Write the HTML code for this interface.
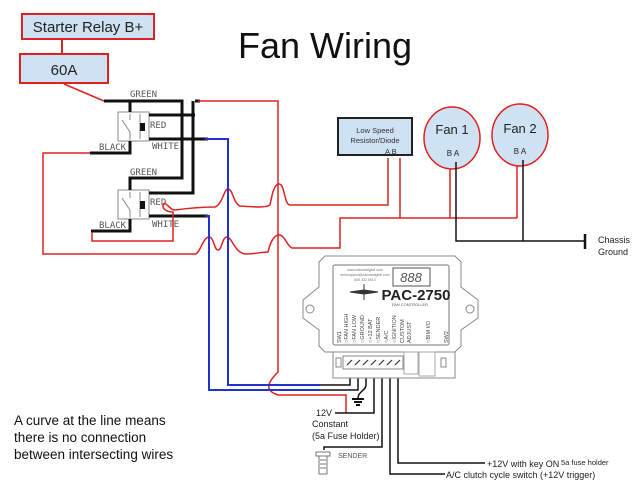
<!DOCTYPE html>
<html><head><meta charset="utf-8"><style>
html,body{margin:0;padding:0;background:#fff;}
svg{display:block;font-family:"Liberation Sans",sans-serif;}
</style></head><body>
<svg width="640" height="480" viewBox="0 0 640 480" xmlns="http://www.w3.org/2000/svg">
<rect width="640" height="480" fill="#fff"/>
<!-- title -->
<text x="325" y="58" font-size="36" text-anchor="middle" fill="#111">Fan Wiring</text>
<!-- starter relay / 60A -->
<rect x="22" y="14" width="132" height="25" fill="#cfe2f3" stroke="#d22" stroke-width="2"/>
<text x="88" y="32" font-size="15" text-anchor="middle" fill="#222">Starter Relay B+</text>
<line x1="62" y1="39" x2="62" y2="54" stroke="#d22" stroke-width="2"/>
<rect x="20" y="54" width="88" height="29" fill="#cfe2f3" stroke="#d22" stroke-width="2"/>
<text x="64" y="75" font-size="15" text-anchor="middle" fill="#222">60A</text>
<line x1="64" y1="84" x2="104" y2="101" stroke="#d22" stroke-width="1.5"/>

<!-- relays -->
<g fill="none" stroke="#888" stroke-width="1">
<rect x="118" y="112" width="31" height="29"/><line x1="140" y1="114" x2="140" y2="139"/>
<rect x="118" y="190" width="31" height="29"/><line x1="140" y1="192" x2="140" y2="217"/>
<path d="M122 120 L130 132 M130 114 L130 120 M130 132 L130 140 M122 198 L130 210 M130 192 L130 198 M130 210 L130 218"/>
</g>
<rect x="140" y="123" width="5" height="8" fill="#111"/>
<rect x="140" y="201" width="5" height="8" fill="#111"/>
<g font-size="9" fill="#555" font-family="DejaVu Sans Mono, monospace">
<text x="130" y="97">GREEN</text><text x="150" y="128">RED</text><text x="152" y="149">WHITE</text><text x="99" y="150">BLACK</text>
<text x="130" y="175">GREEN</text><text x="150" y="205">RED</text><text x="152" y="227">WHITE</text><text x="99" y="228">BLACK</text>
</g>
<g fill="none" stroke="#111" stroke-width="3">
<path d="M104 101 H182 V178 H130 V190"/>
<path d="M130 101 V112"/>
<path d="M149 115 H195"/>
<path d="M149 139 H208"/>
<path d="M195 101 H200 M193 101 V193 H149"/>
<path d="M149 216 H208"/>
<path d="M90 153 H130 V141"/>
<path d="M91 231 H130 V219"/>
</g>
<!-- red wires -->
<g fill="none" stroke="#d22" stroke-width="1.5">
<path d="M198 101 H278 V372 C270 380 262 390 278 395 H346 V413"/>
<path d="M90 153 H43 V254 H195 C200 254 203 237 209 237 C214 237 214 250 218 250 C222 250 222 237 227 237 C232 237 234 252 245 254 C255 254 262 252 268 252 C270 244 273 235 279 235 C285 235 286 245 292 248 H340 V218 H517"/>
<path d="M92 232 V241 H173 V212 C168 212 163 210 163 206 C164 198 170 211 175 210 C190 208 205 207 215 207 C222 205 224 189 228 189 C233 189 233 203 240 206 C255 207 265 208 270 205 C272 195 274 184 279 184 C285 184 284 205 290 205 H388 V158"/>
<path d="M400 158 V218"/>
<path d="M450 160 V218"/>
<path d="M517 158 V218"/>
</g>
<!-- blue wires -->
<g fill="none" stroke="#2233cc" stroke-width="2">
<path d="M205 139 H228 V385 H320"/>
<path d="M205 216 H209 V390 H320"/>
</g>
<g fill="none" stroke="#111" stroke-width="1.5">
<path d="M320 385 H350 V376"/>
<path d="M320 390 H358 V376"/>
<path d="M366 376 V385 C366 390 358 392 358 398"/>
<path d="M352 399 H364 M354 402 H362 M356 405 H360" stroke-width="2"/>
<path d="M374 376 V413 H335"/>
<path d="M382 376 V447 H324 V450"/>
<path d="M390 376 V474 H445"/>
<path d="M398 376 V463 H485"/>
</g>
<!-- sender icon -->
<g fill="none" stroke="#777" stroke-width="1">
<rect x="316" y="452" width="14" height="4"/><rect x="319" y="456" width="8" height="18"/>
<path d="M320 460 H326 M320 464 H326 M320 468 H326"/>
</g>
<text x="338" y="458" font-size="7" fill="#555">SENDER</text>
<text x="316" y="416" font-size="9" fill="#222">12V</text>
<text x="312" y="427" font-size="9" fill="#222">Constant</text>
<text x="312" y="439" font-size="9" fill="#222">(5a Fuse Holder)</text>
<text x="487" y="467" font-size="9" fill="#222">+12V with key ON</text>
<text x="561" y="465" font-size="7.5" fill="#222">5a fuse holder</text>
<text x="446" y="478" font-size="9" fill="#222">A/C clutch cycle switch (+12V trigger)</text>

<!-- resistor -->
<rect x="338" y="118" width="74" height="37" fill="#cfe2f3" stroke="#222" stroke-width="2"/>
<text x="375" y="133" font-size="7.5" text-anchor="middle" fill="#333">Low Speed</text>
<text x="375" y="143" font-size="7.5" text-anchor="middle" fill="#333">Resistor/Diode</text>
<text x="385" y="154" font-size="7.5" fill="#333">A  B</text>
<!-- fans -->
<ellipse cx="452" cy="138" rx="28" ry="31" fill="#cfe2f3" stroke="#d22" stroke-width="1.5"/>
<ellipse cx="520" cy="135" rx="28" ry="31" fill="#cfe2f3" stroke="#d22" stroke-width="1.5"/>
<text x="452" y="134" font-size="13" text-anchor="middle" fill="#222">Fan 1</text>
<text x="520" y="133" font-size="13" text-anchor="middle" fill="#222">Fan 2</text>
<text x="453" y="156" font-size="8" text-anchor="middle" fill="#222">B  A</text>
<text x="520" y="154" font-size="8" text-anchor="middle" fill="#222">B  A</text>
<g fill="none" stroke="#111" stroke-width="1.5">
<path d="M456 162 V241 H585"/><path d="M523 160 V241"/>
<path d="M585 234 V249" stroke-width="2.5"/>
</g>
<text x="598" y="243" font-size="9" fill="#222">Chassis</text>
<text x="598" y="255" font-size="9" fill="#222">Ground</text>

<!-- controller -->
<path d="M325 256 H455 L461 262 V287 L478 300 V318 L461 330 V346 L455 352 H325 L319 346 V330 L303 318 V300 L319 287 V262 Z" fill="#fff" stroke="#888" stroke-width="1"/>
<circle cx="310" cy="309" r="4" fill="none" stroke="#888"/><circle cx="470" cy="309" r="4" fill="none" stroke="#888"/>
<rect x="333" y="265" width="116" height="80" rx="2" fill="none" stroke="#777"/>
<rect x="393" y="268" width="37" height="18" fill="none" stroke="#555"/>
<text x="411" y="282" font-size="13" text-anchor="middle" fill="#555" font-style="italic">888</text>
<text x="365" y="271" font-size="3.5" text-anchor="middle" fill="#777">www.dakotadigital.com</text>
<text x="365" y="276" font-size="3.5" text-anchor="middle" fill="#777">techsupport@dakotadigital.com</text>
<text x="365" y="281" font-size="3.5" text-anchor="middle" fill="#777">605.332.6513</text>
<path d="M350 292 L364 290 L378 292 L364 294 Z M364 284 V300" stroke="#333" fill="#333"/>
<text x="416" y="300" font-size="15" font-weight="bold" text-anchor="middle" fill="#222">PAC-2750</text>
<text x="410" y="306" font-size="4" text-anchor="middle" fill="#555">FAN CONTROLLER</text>
<g font-size="5.5" fill="#444">
<text transform="translate(341,343) rotate(-90)">SW1</text>
<text transform="translate(348,343) rotate(-90)">○FAN HIGH</text>
<text transform="translate(356,343) rotate(-90)">○FAN LOW</text>
<text transform="translate(364,343) rotate(-90)">○GROUND</text>
<text transform="translate(372,343) rotate(-90)">○+12 BAT</text>
<text transform="translate(380,343) rotate(-90)">○SENDER</text>
<text transform="translate(388,343) rotate(-90)">○A/C</text>
<text transform="translate(396,343) rotate(-90)">○IGNITION</text>
<text transform="translate(404,343) rotate(-90)">CUSTOM</text>
<text transform="translate(411,343) rotate(-90)">ADJUST</text>
<text transform="translate(430,343) rotate(-90)">○BIM I/O</text>
<text transform="translate(448,343) rotate(-90)">SW2</text>
</g>
<rect x="333" y="352" width="122" height="26" fill="#fff" stroke="#888"/>
<rect x="343" y="356" width="60" height="13" fill="none" stroke="#888"/>
<rect x="404" y="352" width="14" height="22" fill="none" stroke="#aaa"/>
<rect x="419" y="352" width="16" height="24" fill="none" stroke="#aaa"/>
<rect x="336" y="358" width="5" height="9" fill="none" stroke="#888"/>
<rect x="441" y="358" width="5" height="9" fill="none" stroke="#888"/>
<g stroke="#333" stroke-width="1.2"><path d="M347 365 L352 360 M355 365 L360 360 M363 365 L368 360 M371 365 L376 360 M379 365 L384 360 M387 365 L392 360 M395 365 L400 360"/></g>

<!-- note -->
<text x="14" y="425" font-size="13.5" fill="#111">A curve at the line means</text>
<text x="14" y="442" font-size="13.5" fill="#111">there is no connection</text>
<text x="14" y="459" font-size="13.5" fill="#111">between intersecting wires</text>
</svg>
</body></html>
